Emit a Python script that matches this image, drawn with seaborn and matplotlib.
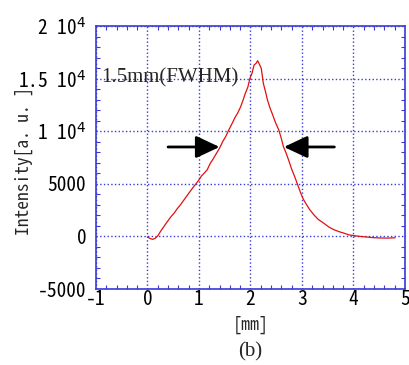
import numpy as np
import pandas as pd
import matplotlib
matplotlib.use('Agg')
import matplotlib.pyplot as plt
from matplotlib.ticker import MultipleLocator, FixedLocator
import seaborn as sns

# profile
pos_mm = [0.00, 0.05, 0.10, 0.15, 0.20, 0.25, 0.32, 0.40, 0.46, 0.52, 0.58, 0.64,
          0.71, 0.78, 0.84, 0.90, 0.95, 1.00, 1.05, 1.10, 1.16, 1.22, 1.28, 1.34,
          1.40, 1.46, 1.52, 1.58, 1.64, 1.70, 1.76, 1.81, 1.86, 1.90, 1.95, 1.99,
          2.03, 2.07, 2.11, 2.14, 2.17, 2.21, 2.25, 2.29, 2.33, 2.38, 2.42, 2.48,
          2.55, 2.60, 2.64, 2.69, 2.74, 2.80, 2.87, 2.91, 2.97, 3.02, 3.07, 3.15,
          3.23, 3.32, 3.42, 3.52, 3.62, 3.72, 3.81, 3.91, 4.01, 4.13, 4.26, 4.39,
          4.52, 4.66, 4.81]
intensity = [-50, -200, -280, -180, 50, 450, 950, 1500, 1900, 2220, 2650, 3000,
             3480, 3950, 4350, 4750, 5050, 5380, 5750, 6000, 6330, 6950, 7400, 7900,
             8390, 9000, 9500, 10120, 10700, 11300, 11800, 12330, 13000, 13600, 14200, 15030,
             15500, 16290, 16450, 16700, 16400, 15980, 14550, 13800, 12970, 12200, 11700, 10900,
             10120, 9300, 8540, 7950, 7280, 6400, 5540, 5000, 4200, 3600, 3170, 2550,
             2060, 1600, 1270, 900, 640, 450, 320, 150, 70, 0, -60, -120,
             -150, -160, -130]

y_ticks = [-5000, 0, 5000, 10000, 15000, 20000]
y_tick_labels = ['-5000', '0', '5000', '1 10$^4$', '1.5 10$^4$', '2 10$^4$']
x_ticks = [-1, 0, 1, 2, 3, 4, 5]
x_tick_labels = ['-1', '0', '1', '2', '3', '4', '5']

# FWHM arrows (tail, tip)
arrow_y = 8500
left_arrow = (0.40, 1.40)
right_arrow = (3.63, 2.65)

df = pd.DataFrame({'mm': pos_mm, 'I': intensity})

sns.set_style('ticks')
mono = ['Noto Sans Mono CJK JP', 'DejaVu Sans Mono']
plt.rcParams['font.family'] = mono

blue = '#3a3ad8'
fig = plt.figure(figsize=(4.09, 3.65), dpi=100)
ax = fig.add_axes([0.2347, 0.2082, 0.7553, 0.7206])

sns.lineplot(data=df, x='mm', y='I', color='#e01010', lw=0.9, ax=ax)

ax.set_xlim(-1, 5)
ax.set_ylim(-5000, 20000)
ax.xaxis.set_major_locator(FixedLocator(x_ticks))
ax.yaxis.set_major_locator(FixedLocator(y_ticks))
ax.set_xticklabels(x_tick_labels)
ax.set_yticklabels(y_tick_labels)
ax.xaxis.set_minor_locator(MultipleLocator(0.2))
ax.yaxis.set_minor_locator(MultipleLocator(1000))
ax.tick_params(which='both', direction='in', top=True, right=True, color=blue,
               labelsize=14, labelcolor='black')
ax.tick_params(which='major', length=0, pad=1)
ax.tick_params(axis='y', which='major', pad=7)
ax.tick_params(which='minor', length=3, width=0.8)
for s in ax.spines.values():
    s.set_color(blue)
    s.set_linewidth(1.2)
ax.grid(True, which='major', color=blue, ls=':', lw=1.0)

ax.set_xlabel('[mm]', fontsize=13)
ax.set_ylabel('Intensity[a. u. ]', fontsize=12.5)
ax.xaxis.set_label_coords(0.5, -0.10)
ax.yaxis.set_label_coords(-0.204, 0.485)

ax.text(-0.89, 14600, '1.5mm(FWHM)', fontsize=15, family='Liberation Serif',
        va='baseline', ha='left')
arrow_style = dict(arrowstyle='-|>,head_length=1.0,head_width=0.47', color='black',
                   lw=2.0, mutation_scale=14.4, shrinkA=0, shrinkB=0)
ax.annotate('', xy=(left_arrow[1], arrow_y), xytext=(left_arrow[0], arrow_y),
            arrowprops=arrow_style)
ax.annotate('', xy=(right_arrow[1], arrow_y), xytext=(right_arrow[0], arrow_y),
            arrowprops=arrow_style)

fig.text(0.6125, 0.035, '(b)', fontsize=15, family='Liberation Serif',
         ha='center', va='center')

fig.savefig('out.png', dpi=100)
